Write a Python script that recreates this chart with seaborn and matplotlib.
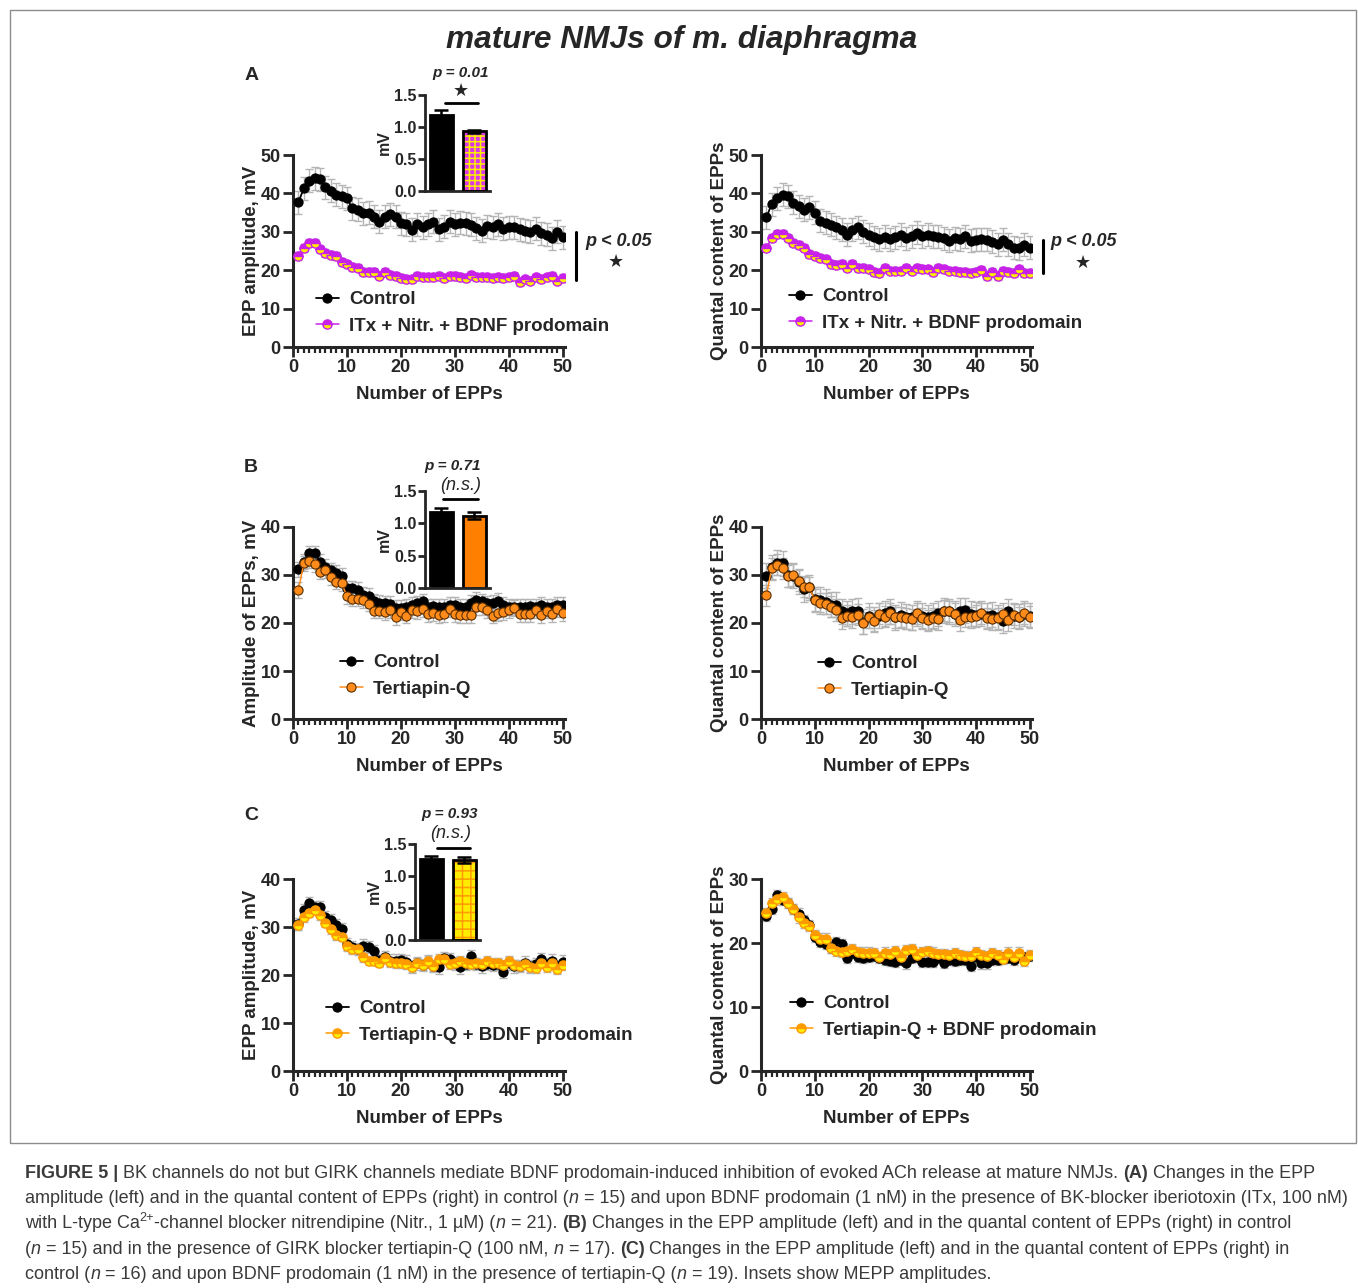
import matplotlib
matplotlib.use('Agg')
import matplotlib.pyplot as plt
import matplotlib.font_manager as fm
from matplotlib.lines import Line2D
from matplotlib.patches import Rectangle
from matplotlib.ticker import MultipleLocator
import seaborn as sns
import numpy as np

# ---- data ----
epp = list(range(1, 51))

# panel A: ITx + Nitr. + BDNF prodomain
a_amp_ctrl = [37.7, 41.3, 43.3, 43.9, 43.7, 41.6, 40.7, 39.6, 39.3, 38.7,
              36.1, 35.8, 34.8, 35.0, 33.9, 32.6, 33.9, 34.6, 33.9, 32.2,
              32.0, 30.5, 32.0, 31.2, 32.0, 32.6, 30.7, 31.3, 32.6, 32.0,
              32.4, 32.2, 31.8, 30.9, 30.3, 31.5, 31.2, 32.0, 30.8, 31.2,
              31.2, 30.7, 30.3, 30.0, 30.8, 29.6, 29.2, 28.3, 30.0, 28.6]
a_amp_trt = [23.7, 25.7, 27.2, 27.2, 25.4, 24.5, 23.9, 23.7, 22.2, 21.5,
             20.9, 20.7, 19.6, 19.6, 19.6, 18.6, 19.6, 18.7, 18.5, 17.9,
             17.6, 17.6, 18.5, 18.1, 18.1, 18.1, 18.5, 17.9, 18.5, 18.5,
             18.3, 17.9, 18.7, 18.3, 18.3, 18.1, 17.9, 18.1, 17.9, 18.1,
             18.5, 17.0, 17.6, 17.3, 18.1, 17.6, 18.1, 18.5, 17.3, 17.9]
a_qc_ctrl = [33.8, 37.2, 38.7, 39.6, 39.3, 37.6, 36.7, 35.8, 36.4, 35.0,
             32.9, 32.4, 31.8, 31.2, 30.5, 29.2, 30.5, 31.2, 30.0, 29.2,
             28.6, 28.0, 28.7, 28.0, 28.6, 29.2, 28.3, 28.9, 29.8, 28.9,
             29.2, 28.9, 28.7, 28.3, 27.7, 28.3, 28.0, 28.9, 27.7, 27.9,
             28.0, 27.9, 27.4, 26.8, 27.9, 26.8, 25.9, 25.7, 26.6, 25.9]
a_qc_trt = [25.9, 28.3, 29.4, 29.4, 28.3, 27.2, 26.6, 25.9, 24.2, 23.7,
            23.1, 22.8, 21.6, 21.3, 21.6, 20.7, 21.6, 20.5, 20.7, 20.2,
            19.6, 19.3, 20.5, 19.9, 19.9, 19.9, 20.5, 19.9, 20.5, 20.2,
            20.2, 19.6, 20.7, 20.2, 19.9, 19.9, 19.6, 19.6, 19.3, 19.6,
            20.0, 18.5, 19.6, 18.5, 19.9, 19.6, 19.3, 20.2, 19.2, 19.3]

# panel B: Tertiapin-Q
b_amp_ctrl = [31.2, 32.8, 34.5, 34.5, 32.8, 31.7, 31.0, 30.4, 29.8, 27.2,
              27.2, 26.9, 25.8, 25.6, 24.5, 24.2, 24.1, 24.0, 23.1, 23.1,
              23.3, 23.8, 24.1, 24.5, 23.3, 23.5, 23.3, 23.4, 23.8, 23.8,
              23.3, 23.3, 24.2, 24.8, 24.5, 24.1, 24.2, 24.6, 23.8, 23.3,
              23.3, 23.4, 23.3, 23.5, 23.3, 23.8, 23.3, 23.3, 23.8, 23.8]
b_amp_trt = [26.9, 32.4, 33.0, 32.3, 30.7, 31.0, 29.6, 28.6, 28.3, 25.6,
             25.1, 25.1, 24.7, 24.0, 22.6, 22.6, 22.2, 22.7, 21.2, 22.2,
             21.5, 22.7, 22.4, 22.9, 21.9, 22.0, 21.7, 21.9, 22.9, 21.9,
             21.7, 21.7, 21.7, 23.3, 23.3, 22.7, 21.5, 22.0, 22.2, 22.7,
             23.1, 21.9, 21.9, 21.9, 22.7, 21.7, 22.6, 21.9, 22.9, 22.0]
b_qc_ctrl = [29.8, 31.6, 32.6, 32.4, 30.0, 29.8, 28.6, 27.0, 27.4, 24.9,
             24.8, 24.4, 23.8, 23.8, 22.4, 22.0, 22.4, 22.6, 20.3, 21.5,
             20.8, 21.5, 22.0, 22.4, 21.2, 21.7, 21.3, 21.2, 21.9, 21.5,
             21.2, 21.5, 22.0, 22.6, 22.4, 21.9, 22.6, 22.7, 21.9, 21.7,
             21.9, 21.5, 21.7, 21.2, 20.5, 22.4, 21.5, 21.3, 21.9, 21.5]
b_qc_trt = [25.8, 31.4, 32.1, 31.4, 29.8, 30.0, 28.8, 27.6, 27.4, 24.8,
            24.1, 24.0, 23.4, 22.7, 21.0, 21.5, 21.2, 21.7, 20.0, 21.2,
            20.5, 21.9, 21.3, 22.0, 21.2, 21.2, 21.0, 20.8, 22.0, 21.0,
            20.6, 21.0, 20.8, 22.6, 22.4, 21.9, 20.6, 21.3, 21.2, 21.5,
            22.0, 21.0, 20.8, 21.0, 21.9, 20.6, 21.7, 21.2, 22.0, 21.3]

# panel C: Tertiapin-Q + BDNF prodomain
c_amp_ctrl = [30.6, 33.5, 34.9, 34.1, 34.2, 32.1, 31.5, 30.4, 29.5, 26.5,
              25.8, 25.4, 26.1, 25.8, 24.9, 23.1, 23.7, 23.0, 23.0, 23.1,
              22.8, 21.8, 22.4, 22.1, 22.8, 21.9, 21.6, 23.5, 23.3, 22.4,
              21.6, 22.3, 23.9, 22.3, 21.8, 22.3, 22.1, 22.3, 20.7, 22.4,
              21.8, 21.9, 22.6, 21.8, 22.3, 23.3, 22.3, 23.0, 21.8, 22.8]
c_amp_trt = [30.4, 32.0, 33.0, 33.5, 32.5, 30.9, 29.5, 28.3, 28.0, 26.1,
             25.4, 25.4, 23.7, 23.0, 23.0, 22.6, 23.5, 22.8, 22.4, 22.4,
             22.3, 21.6, 22.6, 22.1, 23.0, 21.8, 23.3, 23.3, 22.3, 22.6,
             23.0, 22.6, 22.3, 22.6, 22.3, 23.0, 22.6, 22.4, 22.1, 23.0,
             22.1, 21.8, 22.3, 21.6, 21.4, 22.4, 21.6, 22.6, 21.2, 22.1]
c_qc_ctrl = [24.2, 25.3, 27.5, 26.7, 26.3, 25.3, 24.6, 23.6, 22.8, 21.0,
             20.1, 19.8, 19.2, 20.2, 19.8, 17.6, 18.5, 17.8, 17.6, 17.8,
             18.0, 17.6, 17.3, 17.2, 17.1, 17.4, 16.8, 17.6, 17.8, 17.1,
             17.1, 17.1, 17.6, 16.9, 17.4, 17.2, 17.4, 17.3, 16.4, 17.8,
             16.8, 16.8, 17.4, 17.4, 17.8, 17.6, 17.3, 18.1, 17.8, 18.0]
c_qc_trt = [24.7, 26.2, 26.8, 27.2, 26.3, 25.3, 24.0, 23.2, 22.7, 21.3,
            20.7, 20.7, 19.2, 18.8, 18.6, 18.8, 19.0, 18.6, 18.5, 18.5,
            18.4, 17.8, 18.5, 18.3, 18.8, 17.8, 18.9, 19.0, 18.1, 18.6,
            18.8, 18.5, 18.3, 18.3, 18.1, 18.4, 18.1, 18.0, 17.9, 18.6,
            18.1, 18.0, 18.4, 18.1, 17.5, 18.5, 17.8, 18.5, 17.2, 18.1]

# approximate SEM (half length of the gray error bars)
a_amp_sem = [3.0, 1.0]
a_qc_sem = [3.0, 1.0]
b_amp_sem = [1.6, 1.6]
b_qc_sem = [2.6, 2.2]
c_amp_sem = [1.3, 1.0]
c_qc_sem = [0.8, 0.8]

# insets: MEPP amplitude, mV
inset_groups = ['Control', 'Treated']
a_mepp = [1.18, 0.93]
a_mepp_sem = [0.09, 0.03]
b_mepp = [1.17, 1.12]
b_mepp_sem = [0.06, 0.06]
c_mepp = [1.27, 1.25]
c_mepp_sem = [0.04, 0.04]

W, H = 1358, 1288
ERR_GRAY = '#b5b5b5'

sns.set_style('ticks')
plt.rcParams['font.family'] = ['Liberation Sans', 'DejaVu Sans']
plt.rcParams['font.weight'] = 'bold'
plt.rcParams['axes.labelweight'] = 'bold'
plt.rcParams['hatch.linewidth'] = 1.1


def fx(px):
    return px / W


def fy(py):
    return 1 - py / H


def px_axes(fig, left, top, right, bottom):
    return fig.add_axes([fx(left), fy(bottom), (right - left) / W, (bottom - top) / H])


def style_axes(ax, ymax, ylabel):
    sns.despine(ax=ax)
    for s in ['left', 'bottom']:
        ax.spines[s].set_linewidth(2.2)
    ax.set_xlim(0, 50.4)
    ax.set_ylim(0, ymax)
    ax.set_xticks(range(0, 51, 10))
    ax.xaxis.set_minor_locator(MultipleLocator(1))
    ax.set_yticks(range(0, ymax + 1, 10))
    ax.tick_params(which='major', length=7, width=2, labelsize=13, pad=2)
    ax.tick_params(axis='x', which='minor', length=4, width=1.6)
    ax.set_xlabel('Number of EPPs', fontsize=13.5, labelpad=7)
    ax.set_ylabel(ylabel, fontsize=13.5, labelpad=0)


def draw_panel(fig, rect, ctrl, trt, sem, trt_style, ymax, ylabel, labels, leg_xy):
    ax = px_axes(fig, *rect)
    x = np.array(epp)
    for vals, e in [(ctrl, sem[0]), (trt, sem[1])]:
        ax.errorbar(x, vals, yerr=e, fmt='none', ecolor=ERR_GRAY, elinewidth=1,
                    capsize=3, capthick=1, zorder=1)
    n0 = len(ax.lines)
    sns.lineplot(x=x, y=ctrl, ax=ax, color='black', marker='o', markersize=6.6,
                 markeredgecolor='black', markeredgewidth=0.8, linewidth=1.3,
                 errorbar=None, zorder=3)
    h_ctrl = ax.lines[n0]
    n1 = len(ax.lines)
    sns.lineplot(x=x, y=trt, ax=ax, errorbar=None, zorder=4, marker='o', markersize=6.6,
                 linewidth=1.1, **trt_style)
    h_trt = ax.lines[n1]
    style_axes(ax, ymax, ylabel)
    ax.legend(handles=[h_ctrl, h_trt], labels=labels, loc='upper left',
              bbox_to_anchor=(fx(leg_xy[0]), fy(leg_xy[1])), bbox_transform=fig.transFigure,
              frameon=False, prop=dict(weight='bold', size=13.5), handlelength=1.2,
              handletextpad=0.55, labelspacing=0.5, borderpad=0, borderaxespad=0)
    return ax


def draw_inset(fig, rect, vals, sems, colors, hatch=None, hatch_color=None):
    ax = px_axes(fig, *rect)
    sns.barplot(x=inset_groups, y=vals, hue=inset_groups,
                palette=dict(zip(inset_groups, colors)), legend=False, width=0.7,
                saturation=1, edgecolor='black', linewidth=2, ax=ax)
    if hatch:
        for p in ax.patches:
            if p.get_x() + p.get_width() / 2 > 0.5:
                p.set_hatch(hatch)
                p.set_edgecolor(hatch_color)
                p.set_linewidth(0)
                ax.add_patch(Rectangle(p.get_xy(), p.get_width(), p.get_height(),
                                       fill=False, edgecolor='black', linewidth=2, zorder=3))
    ax.errorbar([0, 1], vals, yerr=sems, fmt='none', ecolor='black', elinewidth=1.8,
                capsize=5, capthick=1.8, zorder=4)
    sns.despine(ax=ax)
    for s in ['left', 'bottom']:
        ax.spines[s].set_linewidth(2)
    ax.set_xlim(-0.5, 1.47)
    ax.set_ylim(0, 1.5)
    ax.set_xticks([])
    ax.set_yticks([0, 0.5, 1.0, 1.5])
    ax.set_yticklabels(['0.0', '0.5', '1.0', '1.5'])
    ax.tick_params(axis='y', length=5, width=2, labelsize=11.5, pad=1)
    ax.set_xlabel('')
    ax.set_ylabel('mV', fontsize=11.5, labelpad=2)
    return ax


def hline(fig, x1, x2, y, lw=2):
    fig.add_artist(Line2D([fx(x1), fx(x2)], [fy(y), fy(y)], color='black', lw=lw))


def vline(fig, x, y1, y2, lw=2.2):
    fig.add_artist(Line2D([fx(x), fx(x)], [fy(y1), fy(y2)], color='black', lw=lw))


def star(fig, x, y):
    fig.text(fx(x), fy(y), '\u2605', fontsize=13, family='DejaVu Sans',
             ha='center', va='center')


fig = plt.figure(figsize=(W / 100, H / 100), dpi=100)

fig.text(fx(682), fy(40), 'mature NMJs of m. diaphragma', fontsize=22.8, weight='bold',
         style='italic', ha='center', va='center')

MAG = '#c822ea'
YEL = '#ffec00'
ORG = '#ff8c1a'
ORG_C = '#ff9a00'

style_a = dict(color=MAG, markerfacecolor=MAG, markerfacecoloralt=YEL, fillstyle='top',
               markeredgecolor=MAG, markeredgewidth=1.0)
style_b = dict(color=ORG, markerfacecolor=ORG, markeredgecolor='#5a2e00',
               markeredgewidth=0.8)
style_c = dict(color=ORG_C, markerfacecolor=ORG_C, markerfacecoloralt=YEL, fillstyle='top',
               markeredgecolor=ORG_C, markeredgewidth=1.0)

lab_a = ['Control', 'ITx + Nitr. + BDNF prodomain']
lab_b = ['Control', 'Tertiapin-Q']
lab_c = ['Control', 'Tertiapin-Q + BDNF prodomain']

# row A
draw_panel(fig, (293, 155, 565, 347), a_amp_ctrl, a_amp_trt, a_amp_sem, style_a, 50,
           'EPP amplitude, mV', lab_a, (316, 291))
draw_panel(fig, (761, 155, 1032, 347), a_qc_ctrl, a_qc_trt, a_qc_sem, style_a, 50,
           'Quantal content of EPPs', lab_a, (789, 288))
# row B
draw_panel(fig, (293, 527, 565, 719), b_amp_ctrl, b_amp_trt, b_amp_sem, style_b, 40,
           'Amplitude of EPPs, mV', lab_b, (340, 654))
draw_panel(fig, (761, 527, 1032, 719), b_qc_ctrl, b_qc_trt, b_qc_sem, style_b, 40,
           'Quantal content of EPPs', lab_b, (818, 655))
# row C
draw_panel(fig, (293, 879, 565, 1071), c_amp_ctrl, c_amp_trt, c_amp_sem, style_c, 40,
           'EPP amplitude, mV', lab_c, (326, 1000))
draw_panel(fig, (761, 879, 1032, 1071), c_qc_ctrl, c_qc_trt, c_qc_sem, style_c, 30,
           'Quantal content of EPPs', lab_c, (790, 995))

# insets
draw_inset(fig, (425, 95, 490, 191), a_mepp, a_mepp_sem, ['black', '#d838ea'], '+++', YEL)
draw_inset(fig, (425, 491, 490, 588), b_mepp, b_mepp_sem, ['black', '#ff8000'])
draw_inset(fig, (415, 844, 480, 940), c_mepp, c_mepp_sem, ['black', YEL], '++', '#ff9a00')

# inset annotations
fig.text(fx(461), fy(73), 'p = 0.01', fontsize=11, weight='bold', style='italic',
         ha='center', va='center')
star(fig, 461, 91)
hline(fig, 445, 478, 103)
fig.text(fx(453), fy(466), 'p = 0.71', fontsize=11, weight='bold', style='italic',
         ha='center', va='center')
fig.text(fx(461), fy(485), '(n.s.)', fontsize=13, weight='normal', style='italic',
         ha='center', va='center')
hline(fig, 443, 478, 499)
fig.text(fx(450), fy(814), 'p = 0.93', fontsize=11, weight='bold', style='italic',
         ha='center', va='center')
fig.text(fx(451), fy(833), '(n.s.)', fontsize=13, weight='normal', style='italic',
         ha='center', va='center')
hline(fig, 437, 470, 848)

# p < 0.05 brackets on row A
vline(fig, 576, 232, 280)
fig.text(fx(585), fy(241), 'p < 0.05', fontsize=13, weight='bold', style='italic',
         ha='left', va='center')
star(fig, 616, 262)
vline(fig, 1043, 240, 273)
fig.text(fx(1050), fy(242), 'p < 0.05', fontsize=13, weight='bold', style='italic',
         ha='left', va='center')
star(fig, 1083, 263)

# panel letters
for letter, (lx, ly) in {'A': (252, 75), 'B': (251, 467), 'C': (251, 816)}.items():
    fig.text(fx(lx), fy(ly), letter, fontsize=14, weight='bold', ha='center', va='center')

# frame around the figure area
fig.add_artist(Rectangle((fx(10), fy(1143)), (1356 - 10) / W, (1143 - 10) / H,
                         transform=fig.transFigure, fill=False, edgecolor='#8c8c8c', lw=1))

# ---- caption ----
names = {f.name for f in fm.fontManager.ttflist}
cap_family = 'Liberation Sans Narrow' if 'Liberation Sans Narrow' in names else 'Liberation Sans'
CAP_COLOR = '#3a3a3a'

caption = [
    [('FIGURE 5 | ', 'b'), ('BK channels do not but GIRK channels mediate BDNF prodomain-induced '
                            'inhibition of evoked ACh release at mature NMJs. ', 'r'),
     ('(A)', 'b'), (' Changes in the EPP', 'r')],
    [('amplitude (left) and in the quantal content of EPPs (right) in control (', 'r'), ('n', 'i'),
     (' = 15) and upon BDNF prodomain (1 nM) in the presence of BK-blocker iberiotoxin (ITx, 100 nM)', 'r')],
    [('with L-type Ca', 'r'), ('2+', 's'),
     ('-channel blocker nitrendipine (Nitr., 1 \u00b5M) (', 'r'), ('n', 'i'), (' = 21). ', 'r'),
     ('(B)', 'b'),
     (' Changes in the EPP amplitude (left) and in the quantal content of EPPs (right) in control', 'r')],
    [('(', 'r'), ('n', 'i'), (' = 15) and in the presence of GIRK blocker tertiapin-Q (100 nM, ', 'r'),
     ('n', 'i'), (' = 17). ', 'r'), ('(C)', 'b'),
     (' Changes in the EPP amplitude (left) and in the quantal content of EPPs (right) in', 'r')],
    [('control (', 'r'), ('n', 'i'), (' = 16) and upon BDNF prodomain (1 nM) in the presence of tertiapin-Q (', 'r'),
     ('n', 'i'), (' = 19). Insets show MEPP amplitudes.', 'r')],
]
# right edge of each caption line in the reference (px)
caption_ends = [1322, 1340, 1295, 1287, 993]

renderer = fig.canvas.get_renderer()


def frag_kw(kind, size):
    kw = dict(family=cap_family, color=CAP_COLOR, weight='normal', style='normal', fontsize=size)
    if kind == 'b':
        kw['weight'] = 'bold'
    elif kind == 'i':
        kw['style'] = 'italic'
    elif kind == 's':
        kw['fontsize'] = size * 0.7
    return kw


def frag_width(s, kw):
    t1 = fig.text(0, 0, '|' + s + '|', **kw)
    t2 = fig.text(0, 0, '||', **kw)
    w = t1.get_window_extent(renderer).width - t2.get_window_extent(renderer).width
    t1.remove()
    t2.remove()
    return w


base = 12
ratios = []
for line, end in zip(caption, caption_ends):
    lw = sum(frag_width(s, frag_kw(k, base)) for s, k in line)
    ratios.append((end - 25) / lw)
cap_size = base * float(np.mean(ratios))

baselines = [1178, 1203, 1228, 1254, 1279]
for line, yb in zip(caption, baselines):
    x = 25.0
    for s, k in line:
        kw = frag_kw(k, cap_size)
        y = yb - 7 if k == 's' else yb
        fig.text(fx(x), fy(y), s, ha='left', va='baseline', **kw)
        x += frag_width(s, kw)

fig.savefig('out.png', dpi=100)
